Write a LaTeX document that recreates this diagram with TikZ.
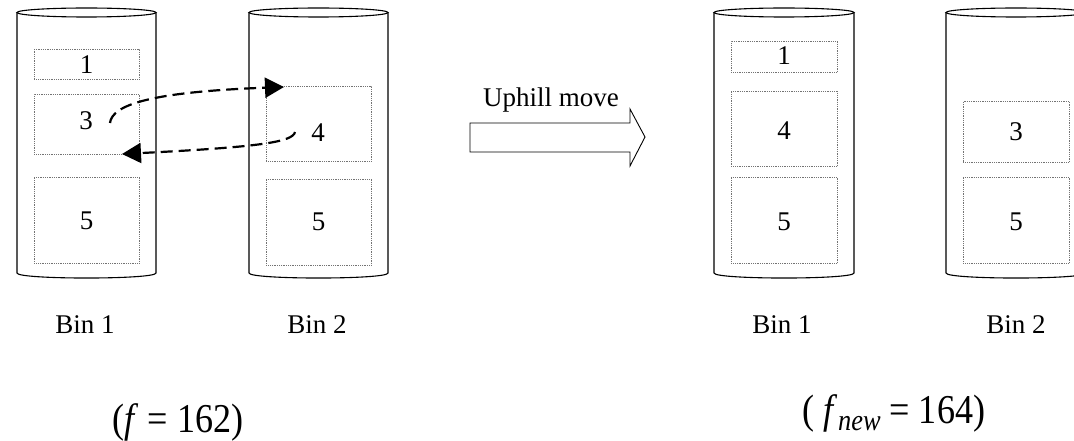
\documentclass[tikz,border=0pt]{standalone}
\usepackage{fontspec}
\setmainfont{Liberation Serif}
\usetikzlibrary{arrows.meta}

\tikzset{
  binwall/.style={draw=black, line width=1.1pt},
  item/.style={draw=black!55, line width=0.8pt, dash pattern=on 1pt off 0.8pt,
               inner sep=0pt, anchor=north west},
  num/.style={font=\fontsize{27}{27}\selectfont, inner sep=0pt},
  binname/.style={font=\fontsize{27}{27}\selectfont, inner sep=0pt, anchor=base},
  swap/.style={draw=black, line width=2.2pt, dash pattern=on 12pt off 6pt,
               -{Triangle[length=19pt, width=20pt]}},
  cost/.style={font=\fontsize{41}{41}\selectfont, inner sep=0pt, anchor=base},
}

% a bin: top ellipse, two walls and the lower rim
\newcommand{\drawbin}[2]{%
  \draw[binwall] ({(#1+#2)/2},12.5) ellipse [x radius={(#2-#1)/2}, y radius=4.5];
  \draw[binwall] (#1,12.5) -- (#1,273)
    .. controls (#1,279.7) and (#2,279.7) .. (#2,273) -- (#2,12.5);
}

\begin{document}
\begin{tikzpicture}[x=1pt, y=-1pt]
\useasboundingbox (0,0) rectangle (1074,441);
\begin{scope}
\clip (0,0) rectangle (1074,441);

% ---- before the move ----
\drawbin{17}{156}
\drawbin{249}{388}

\node[item, minimum width=105pt, minimum height=30pt] (a1) at (34,49) {};
\node[item, minimum width=105pt, minimum height=60pt] (a3) at (34,94) {};
\node[item, minimum width=105pt, minimum height=86pt] (a5) at (34,177) {};
\node[num] (la1) at (86.5,65) {1};
\node[num] (la3) at (86,121) {3};
\node[num] (la5) at (86.5,221) {5};

\node[item, minimum width=105pt, minimum height=75pt] (b4) at (266,86) {};
\node[item, minimum width=105pt, minimum height=86pt] (b5) at (266,179) {};
\node[num] (lb4) at (318,133) {4};
\node[num] (lb5) at (318.5,222) {5};

% exchange of items 3 and 4
\coordinate (from3) at (110,123);
\coordinate (to4) at (284,87);
\coordinate (from4) at (295,132);
\coordinate (to3) at (122,154);
\draw[swap] (from3) .. controls (112,105) and (150,92) .. (to4);
\draw[swap] (from4) .. controls (293,142) and (260,147) .. (to3);

\node[binname] (n1) at (85,333) {Bin 1};
\node[binname] (n2) at (317,333) {Bin 2};
\node[cost] (f1) at (178,432) {\scalebox{0.88}[1]{(\textit{f} = 162)}};

% ---- the uphill move ----
\draw[line width=0.9pt] (470,123) -- (630,123) -- (630,109) -- (645,137)
  -- (630,166) -- (630,152) -- (470,152) -- cycle;
\node[binname] (up) at (551,107) {Uphill move};

% ---- after the move ----
\drawbin{714}{854}
\drawbin{946}{1086}

\node[item, minimum width=106pt, minimum height=31pt] (c1) at (731,41) {};
\node[item, minimum width=106pt, minimum height=75pt] (c4) at (731,91) {};
\node[item, minimum width=106pt, minimum height=86pt] (c5) at (731,177) {};
\node[num] (lc1) at (784,56) {1};
\node[num] (lc4) at (784,131) {4};
\node[num] (lc5) at (784,222) {5};

\node[item, minimum width=106pt, minimum height=61pt] (d3) at (963,101) {};
\node[item, minimum width=106pt, minimum height=86pt] (d5) at (963,177) {};
\node[num] (ld3) at (1016,132) {3};
\node[num] (ld5) at (1016,222) {5};

\node[binname] (n3) at (782,333) {Bin 1};
\node[binname] (n4) at (1016,333) {Bin 2};
\node[cost] (f2) at (894,423) {\scalebox{0.88}[1]{( \textit{f}\raisebox{-7pt}{\fontsize{30}{30}\selectfont\itshape new} = 164)}};
\end{scope}
\end{tikzpicture}
\end{document}
